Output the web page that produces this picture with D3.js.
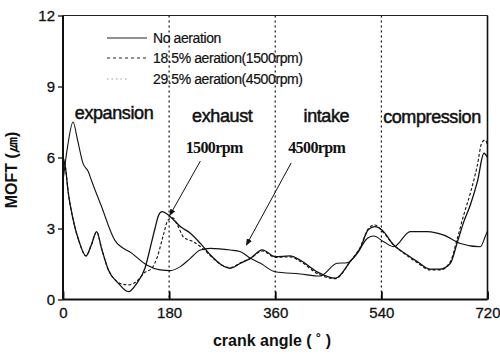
<!DOCTYPE html>
<html>
<head>
<meta charset="utf-8">
<script src="https://cdn.jsdelivr.net/npm/d3@7"></script>
<style>
  body { margin: 0; background: #fff; }
  svg { display: block; font-family: "Liberation Sans", Arial, sans-serif; }
</style>
</head>
<body>
<script>
// crank angle (deg) / MOFT (um) pairs
const noAeration = [[0,6.0],[4,5.6],[9,4.5],[17,3.4],[28,2.4],[39,1.84],[48,2.3],[57,2.87],[66,2.1],[77,1.25],[94,0.68],[111,0.33],[125,0.68],[139,1.32],[151,2.5],[156,3.0],[162,3.55],[168,3.71],[182,3.5],[199,3.08],[216,2.8],[233,2.37],[250,1.88],[269,1.46],[284,1.32],[301,1.53],[318,1.74],[338,2.1],[360,1.81],[385,1.84],[402,1.67],[431,1.17],[462,0.9],[487,1.6],[504,2.16],[518,2.96],[529,3.08],[541,2.94],[561,2.3],[584,1.88],[601,1.6],[623,1.28],[640,1.28],[657,1.53],[669,2.44],[680,3.3],[691,4.0],[703,5.0],[714,6.18],[720,6.0]];
const aeration185 = [[0,6.0],[4,5.6],[9,4.5],[17,3.4],[28,2.4],[39,1.84],[48,2.3],[57,2.85],[66,2.1],[77,1.25],[90,0.8],[100,0.65],[112,0.62],[124,0.75],[139,1.15],[150,1.3],[160,1.8],[170,2.7],[178,3.35],[186,3.45],[195,3.1],[204,2.65],[220,2.45],[235,2.2],[250,1.85],[269,1.46],[284,1.35],[301,1.55],[318,1.74],[338,2.05],[360,1.78],[385,1.8],[402,1.62],[431,1.1],[462,0.88],[487,1.6],[504,2.2],[518,3.0],[529,3.15],[541,2.9],[561,2.3],[584,1.85],[601,1.55],[623,1.25],[640,1.25],[657,1.6],[669,2.6],[680,3.6],[691,4.5],[703,5.7],[710,6.6],[716,6.74],[720,6.5]];
const aeration295 = [[0,5.0],[8,6.5],[17,7.5],[25,6.7],[34,5.75],[43,5.4],[48,5.05],[65,3.95],[88,2.5],[117,1.95],[142,1.46],[165,1.25],[182,1.22],[199,1.39],[216,1.74],[233,2.09],[250,2.16],[284,2.09],[301,2.02],[318,1.74],[335,1.53],[360,1.17],[402,1.08],[436,0.99],[465,1.53],[482,1.55],[499,1.95],[516,2.58],[527,2.68],[544,2.44],[561,2.23],[589,2.87],[618,2.87],[646,2.72],[674,2.37],[708,2.23],[716,2.65],[720,2.9]];

const xTicks = [0, 180, 360, 540, 720];
const yTicks = [0, 3, 6, 9, 12];
const strokeNames = ['No aeration', '18.5% aeration(1500rpm)', '29.5% aeration(4500rpm)'];
const phaseNames = ['expansion', 'exhaust', 'intake', 'compression'];
const phaseStart = [20, 219, 408, 543];
const rpmNotes = ['1500rpm', '4500rpm'];
const rpmNoteAt = [[208, 6.2], [382, 6.2]];
const arrowFrom = [[233, 5.85], [387, 5.77]];
const arrowTo = [[181, 3.55], [311, 2.3]];

const width = 500, height = 354;
const margin = {top: 15.5, right: 12.5, bottom: 54.5, left: 63};

const svg = d3.select('body').append('svg')
  .attr('width', width)
  .attr('height', height);

const x = d3.scaleLinear().domain([0, 720]).range([margin.left, width - margin.right]);
const y = d3.scaleLinear().domain([0, 12]).range([height - margin.bottom, margin.top]);

// stroke boundaries
svg.append('g').selectAll('line')
  .data([180, 360, 540])
  .join('line')
  .attr('x1', d => x(d)).attr('x2', d => x(d))
  .attr('y1', y(12)).attr('y2', y(0))
  .attr('stroke', '#111')
  .attr('stroke-width', 1.2)
  .attr('stroke-dasharray', '2,3');

// axes
const xAxis = svg.append('g')
  .attr('transform', `translate(0,${y(0)})`)
  .call(d3.axisBottom(x).tickValues(xTicks).tickSize(-8).tickPadding(8));
xAxis.select('.domain').remove();
xAxis.selectAll('line').attr('stroke-width', 1.8);
xAxis.selectAll('text').attr('font-size', 15).attr('fill', '#111')
  .attr('stroke', '#111').attr('stroke-width', 0.3)
  .attr('font-family', '"Liberation Sans", Arial, sans-serif');

const yAxis = svg.append('g')
  .attr('transform', `translate(${x(0)},0)`)
  .call(d3.axisLeft(y).tickValues(yTicks).tickSize(5).tickPadding(3));
yAxis.select('.domain').remove();
yAxis.selectAll('line').attr('stroke-width', 1.2);
yAxis.selectAll('text').attr('font-size', 15).attr('fill', '#111')
  .attr('stroke', '#111').attr('stroke-width', 0.3)
  .attr('font-family', '"Liberation Sans", Arial, sans-serif');

// frame
svg.append('line').attr('x1', x(0)).attr('x2', x(720)).attr('y1', y(12)).attr('y2', y(12))
  .attr('stroke', '#222').attr('stroke-width', 1.2);
svg.append('line').attr('x1', x(720)).attr('x2', x(720)).attr('y1', y(12)).attr('y2', y(0))
  .attr('stroke', '#111').attr('stroke-width', 1.6);
svg.append('line').attr('x1', x(0)).attr('x2', x(0)).attr('y1', y(12)).attr('y2', y(0))
  .attr('stroke', '#111').attr('stroke-width', 2);
svg.append('line').attr('x1', x(0)).attr('x2', x(720)).attr('y1', y(0)).attr('y2', y(0))
  .attr('stroke', '#111').attr('stroke-width', 2);

// curves
const line = d3.line()
  .x(d => x(d[0]))
  .y(d => y(d[1]))
  .curve(d3.curveMonotoneX);

const series = [
  {data: aeration295, dash: null, w: 1.1},
  {data: aeration185, dash: '3,2', w: 1.1},
  {data: noAeration, dash: null, w: 1.3}
];
svg.append('g').selectAll('path')
  .data(series)
  .join('path')
  .attr('d', d => line(d.data))
  .attr('fill', 'none')
  .attr('stroke', '#111')
  .attr('stroke-width', d => d.w)
  .attr('stroke-dasharray', d => d.dash);

// legend
const legendDash = [null, '3,3', '1.5,3'];
const legend = svg.append('g').selectAll('g')
  .data(strokeNames)
  .join('g')
  .attr('transform', (d, i) => `translate(107,${[38, 58, 79][i]})`);
legend.append('line')
  .attr('x1', 0).attr('x2', (d, i) => i === 2 ? 22 : 40)
  .attr('stroke', (d, i) => i === 2 ? '#999' : '#222')
  .attr('stroke-width', 1)
  .attr('stroke-dasharray', (d, i) => legendDash[i]);
legend.append('text')
  .attr('x', 46)
  .attr('dy', '0.35em')
  .attr('font-size', 14)
  .attr('letter-spacing', -0.4)
  .attr('fill', '#111')
  .attr('stroke', '#111').attr('stroke-width', 0.2)
  .text(d => d);

// phase labels
svg.append('g').selectAll('text')
  .data(phaseNames)
  .join('text')
  .attr('x', (d, i) => x(phaseStart[i]))
  .attr('y', (d, i) => [119, 122, 122, 123][i])
  .attr('font-size', 18)
  .attr('letter-spacing', -0.4)
  .attr('fill', '#111')
  .attr('stroke', '#111').attr('stroke-width', 0.5)
  .text(d => d);

// rpm notes + arrows
svg.append('defs').append('marker')
  .attr('id', 'head')
  .attr('viewBox', '0 0 10 10')
  .attr('refX', 9).attr('refY', 5)
  .attr('markerWidth', 7).attr('markerHeight', 7)
  .attr('orient', 'auto')
  .append('path')
  .attr('d', 'M0,1L10,5L0,9Z')
  .attr('fill', '#111');

svg.append('g').selectAll('text')
  .data(rpmNotes)
  .join('text')
  .attr('x', (d, i) => x(rpmNoteAt[i][0]))
  .attr('y', (d, i) => y(rpmNoteAt[i][1]))
  .attr('font-family', '"Liberation Serif", "Times New Roman", serif')
  .attr('font-size', 16)
  .attr('font-weight', 'bold')
  .attr('letter-spacing', -0.6)
  .attr('fill', '#111')
  .text(d => d);

svg.append('g').selectAll('line')
  .data(arrowFrom)
  .join('line')
  .attr('x1', d => x(d[0])).attr('y1', d => y(d[1]))
  .attr('x2', (d, i) => x(arrowTo[i][0])).attr('y2', (d, i) => y(arrowTo[i][1]))
  .attr('stroke', '#111')
  .attr('stroke-width', 1)
  .attr('marker-end', 'url(#head)');

// axis titles
svg.append('text')
  .attr('x', 272)
  .attr('y', 346)
  .attr('text-anchor', 'middle')
  .attr('font-size', 16)
  .attr('font-weight', 'bold')
  .attr('fill', '#111')
  .text('crank angle ( ˚ )');

svg.append('text')
  .attr('transform', 'translate(17,170) rotate(-90)')
  .attr('text-anchor', 'middle')
  .attr('font-size', 16)
  .attr('font-weight', 'bold')
  .attr('fill', '#111')
  .text('MOFT (㎛)');
</script>
</body>
</html>
